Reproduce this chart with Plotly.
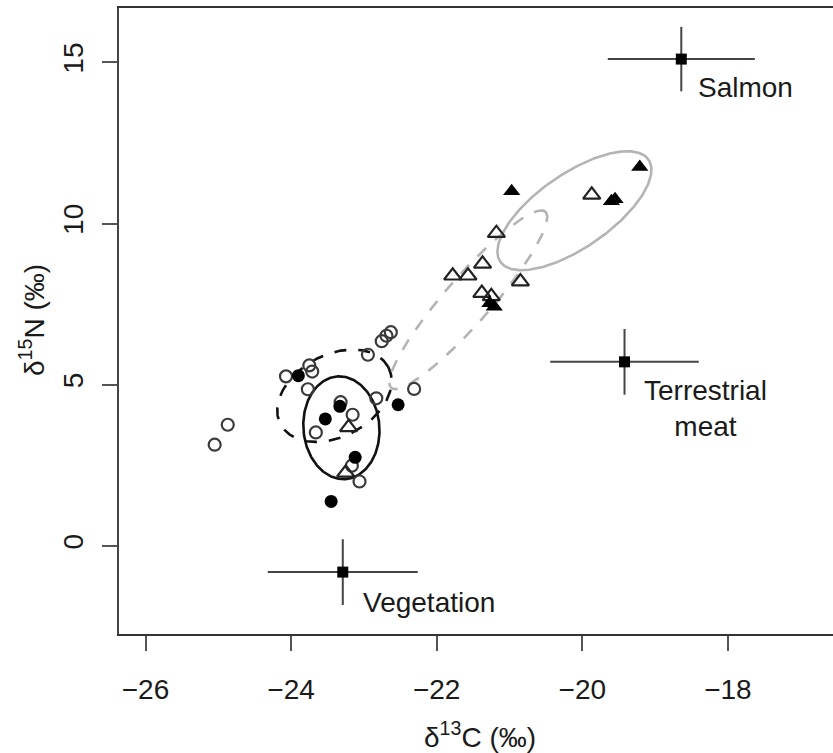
import numpy as np
import plotly.graph_objects as go

# ---- data ----
open_circle_x = [-25.05, -24.87, -24.07, -23.75, -23.71, -23.77, -23.66, -23.32, -23.155,
                 -23.165, -23.06, -22.83, -22.31, -22.945, -22.755, -22.69, -22.63]
open_circle_y = [3.14, 3.76, 5.26, 5.60, 5.41, 4.86, 3.52, 4.46, 4.07,
                 2.49, 2.00, 4.58, 4.87, 5.93, 6.35, 6.52, 6.63]
filled_circle_x = [-23.90, -23.53, -23.33, -23.12, -23.45, -22.53]
filled_circle_y = [5.28, 3.94, 4.33, 2.75, 1.38, 4.38]
open_tri_x = [-23.21, -23.25, -21.18, -21.37, -21.78, -21.57, -21.38, -21.25, -20.85, -19.87]
open_tri_y = [3.68, 2.27, 9.70, 8.75, 8.38, 8.38, 7.84, 7.74, 8.20, 10.89]
filled_tri_x = [-21.27, -21.21, -20.97, -19.60, -19.55, -19.21]
filled_tri_y = [7.53, 7.42, 11.00, 10.69, 10.75, 11.75]

source_names = ["Salmon", "Terrestrial<br>meat", "Vegetation"]
source_x = [-18.64, -19.42, -23.29]
source_y = [15.10, 5.71, -0.81]
source_sdx = [1.01, 1.02, 1.03]
source_sdy = [1.00, 1.02, 1.02]
label_dx = [15, 17, 18]     # px offset of labels
label_dy = [-28, -47, -30]

# ellipses: centre (data), semi-axes (screen px), angle (deg)
ell_cx = [-23.309, -23.405, -21.566, -20.108]
ell_cy = [3.666, 4.659, 7.636, 10.397]
ell_a = [51.5, 61.0, 117.0, 90.0]
ell_b = [38.0, 41.0, 23.0, 37.0]
ell_ang = [95.0, 28.0, 48.8, 34.6]
ell_color = ["#111111", "#111111", "#b4b4b4", "#b4b4b4"]
ell_dash = ["solid", "12px,12px", "12px,12px", "solid"]

x_ticks = [-26, -24, -22, -20, -18]
y_ticks = [0, 5, 10, 15]
x_range = [-26.364, -16.556]
y_range = [-2.730, 16.684]

W, H = 833, 753
ML, MR, MT, MB = 119, 0, 8, 119
PW, PH = W - ML - MR, H - MT - MB
SX = PW / (x_range[1] - x_range[0])
SY = PH / (y_range[1] - y_range[0])

FONT = "Liberation Sans, Arial, sans-serif"
fig = go.Figure()

t = np.linspace(0, 2 * np.pi, 300)
for cx, cy, a, b, ang, col, dash in zip(ell_cx, ell_cy, ell_a, ell_b, ell_ang, ell_color, ell_dash):
    th = np.radians(ang)
    ex = cx + (a * np.cos(th) * np.cos(t) - b * np.sin(th) * np.sin(t)) / SX
    ey = cy + (a * np.sin(th) * np.cos(t) + b * np.cos(th) * np.sin(t)) / SY
    fig.add_trace(go.Scatter(x=ex, y=ey, mode="lines",
                             line=dict(color=col, width=2.6, dash=dash),
                             hoverinfo="skip", showlegend=False))

fig.add_trace(go.Scatter(x=open_circle_x, y=open_circle_y, mode="markers",
                         marker=dict(symbol="circle-open", size=12, color="#3a3a3a",
                                     line=dict(width=2.2, color="#3a3a3a")), showlegend=False))
fig.add_trace(go.Scatter(x=filled_circle_x, y=filled_circle_y, mode="markers",
                         marker=dict(symbol="circle", size=13, color="#000000"), showlegend=False))
fig.add_trace(go.Scatter(x=open_tri_x, y=open_tri_y, mode="markers",
                         marker=dict(symbol="triangle-up-open", size=15, color="#222222",
                                     line=dict(width=2.2, color="#222222")), showlegend=False))
fig.add_trace(go.Scatter(x=filled_tri_x, y=filled_tri_y, mode="markers",
                         marker=dict(symbol="triangle-up", size=15, color="#000000"), showlegend=False))

fig.add_trace(go.Scatter(x=source_x, y=source_y, mode="markers",
                         marker=dict(symbol="square", size=11, color="#000000"),
                         error_x=dict(type="data", array=source_sdx, visible=True,
                                      thickness=2, width=0, color="#444444"),
                         error_y=dict(type="data", array=source_sdy, visible=True,
                                      thickness=2, width=0, color="#444444"),
                         showlegend=False))

for name, sx, sy, dx, dy in zip(source_names, source_x, source_y, label_dx, label_dy):
    fig.add_annotation(x=sx, y=sy, text=name, showarrow=False, xanchor="left",
                       yanchor="middle", xshift=dx, yshift=dy, align="center",
                       font=dict(family=FONT, size=28, color="#1a1a1a"))

fig.add_annotation(xref="paper", yref="paper", x=(480 - ML) / PW, y=-(735 - MT - PH) / PH,
                   text="δ<sup>13</sup>C (‰)", showarrow=False, xanchor="center", yanchor="middle",
                   font=dict(family=FONT, size=28, color="#1a1a1a"))
fig.add_annotation(xref="paper", yref="paper", x=-(ML - 32) / PW, y=1 - (320 - MT) / PH,
                   text="δ<sup>15</sup>N (‰)", showarrow=False, textangle=-90,
                   xanchor="center", yanchor="middle",
                   font=dict(family=FONT, size=28, color="#1a1a1a"))

fig.update_layout(
    width=W, height=H,
    margin=dict(l=ML, r=MR, t=MT, b=MB),
    paper_bgcolor="white", plot_bgcolor="white",
    font=dict(family=FONT, size=28, color="#1a1a1a"),
    xaxis=dict(range=x_range, tickvals=x_ticks, ticktext=["−%d" % abs(v) for v in x_ticks],
               showgrid=False, zeroline=False, showline=True, linecolor="#333333",
               linewidth=2, mirror=True, ticks="outside", ticklen=15, tickwidth=2,
               tickcolor="#555555", ticklabelstandoff=14),
    yaxis=dict(range=y_range, tickvals=y_ticks, ticktext=[str(v) for v in y_ticks],
               showgrid=False, zeroline=False, showline=True, linecolor="#444444",
               linewidth=2, ticks="outside", ticklen=15, tickwidth=2, tickcolor="#555555",
               tickangle=-90, ticklabelstandoff=8),
)

fig.write_html("out.html")
